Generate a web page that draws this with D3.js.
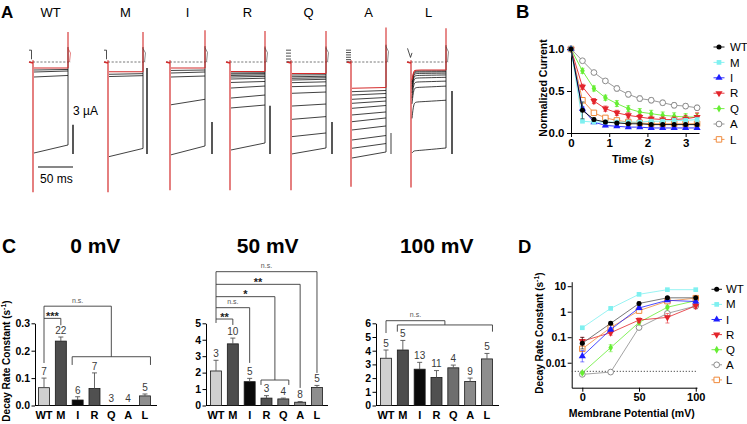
<!DOCTYPE html>
<html><head><meta charset="utf-8">
<script src="https://cdn.jsdelivr.net/npm/d3@7"></script>
<style>html,body{margin:0;padding:0;background:#fff;overflow:hidden}</style>
</head><body><script>
// ================= DATA =================
const constructs = ["WT","M","I","R","Q","A","L"];

// Panel A: current traces as fraction of each construct's largest current.
// [start, end] pairs (L: [onset, level, end]); the first entry is the red trace.
const traceWT = [[0.066,0.066],[0.088,0.082],[0.11,0.099],[0.165,0.148],[1.0,0.912]];
const traceM  = [[0.107,0.107],[0.135,0.128],[0.16,0.15],[1.04,0.95]];
const traceI  = [[0.066,0.066],[0.093,0.088],[0.121,0.11],[0.165,0.154],[0.47,0.41],[1.02,0.923]];
const traceR  = [[0.104,0.104],[0.121,0.118],[0.132,0.128],[0.148,0.142],[0.165,0.158],[0.187,0.178],[0.225,0.214],[0.286,0.264],[0.396,0.363],[0.505,0.473],[0.967,0.89]];
const traceQ  = [[0.126,0.126],[0.143,0.14],[0.162,0.157],[0.179,0.173],[0.198,0.19],[0.227,0.218],[0.271,0.262],[0.344,0.33],[0.484,0.462],[0.63,0.6],[0.82,0.78],[1.01,0.945]];
const traceA  = [[0.289,0.28],[0.326,0.313],[0.363,0.346],[0.41,0.39],[0.454,0.429],[0.509,0.478],[0.582,0.549],[0.656,0.615],[0.747,0.703],[0.857,0.808],[0.948,0.896],[1.055,0.989]];
const traceL  = [[0.2,0.088,0.088],[0.22,0.099,0.097],[0.24,0.11,0.107],[0.27,0.126,0.122],[0.3,0.148,0.142],[0.34,0.176,0.168],[0.4,0.22,0.21],[0.46,0.28,0.265],[0.62,0.44,0.42],[1.0,0.975,0.945]];
const capTransient = [1.43,1.43,1.41,1.41,1.41,1.37,1.38];
const tailPeak = [-0.33,-0.33,-0.35,-0.34,-0.34,-0.38,-0.37];
const scaleBarFrac = [0.32,0.945,0.35,0.53,0.35,0.23,0.69]; // 3 µA relative to largest current
const pulseMs = 50;

// Panel B: normalized current vs time
const timeS = [0,0.3,0.6,0.9,1.2,1.5,1.8,2.1,2.4,2.7,3.0,3.3];
const normWT = [1,0.27,0.16,0.13,0.12,0.11,0.11,0.10,0.10,0.10,0.10,0.10];
const normM  = [1,0.14,0.13,0.13,0.13,0.13,0.13,0.14,0.14,0.15,0.15,0.16];
const normI  = [1,0.29,0.13,0.09,0.08,0.07,0.07,0.06,0.06,0.06,0.06,0.06];
const normR  = [1,0.55,0.38,0.29,0.24,0.21,0.19,0.17,0.16,0.16,0.17,0.19];
const normQ  = [1,0.74,0.53,0.42,0.35,0.29,0.25,0.23,0.21,0.20,0.19,0.19];
const normA  = [1,0.86,0.72,0.62,0.53,0.46,0.41,0.39,0.36,0.33,0.32,0.30];
const normL  = [1,0.39,0.24,0.18,0.15,0.13,0.12,0.11,0.11,0.11,0.11,0.11];
const semWT = [0,0.10,0.02,0.02,0.015,0.015,0.015,0.015,0.015,0.015,0.015,0.015];
const semM  = [0,0.01,0.01,0.01,0.01,0.01,0.01,0.01,0.01,0.015,0.015,0.015];
const semI  = [0,0.02,0.015,0.015,0.01,0.01,0.01,0.01,0.01,0.01,0.01,0.01];
const semR  = [0,0.03,0.03,0.03,0.03,0.03,0.03,0.03,0.03,0.03,0.04,0.05];
const semQ  = [0,0.03,0.03,0.03,0.035,0.035,0.04,0.04,0.04,0.04,0.04,0.04];
const semA  = [0,0.01,0.02,0.02,0.03,0.03,0.03,0.03,0.03,0.03,0.03,0.03];
const semL  = [0,0.03,0.02,0.02,0.02,0.02,0.02,0.02,0.02,0.02,0.02,0.02];

// Panel C: decay rate constants (s^-1), SEM, n
const rate0mV   = [0.065,0.235,0.02,0.062,0,0,0.035];
const sem0mV    = [0.035,0.015,0.012,0.057,0,0,0.007];
const n0mV      = [7,22,6,7,3,4,5];
const rate50mV  = [2.1,3.75,1.45,0.45,0.4,0.2,1.1];
const sem50mV   = [0.65,0.35,0.2,0.15,0.05,0.04,0.12];
const n50mV     = [3,10,5,3,4,8,5];
const rate100mV = [3.45,4.05,2.65,2.05,2.75,1.75,3.4];
const sem100mV  = [0.6,0.7,0.5,0.5,0.2,0.25,0.4];
const n100mV    = [5,5,13,11,4,9,5];

// Panel D: decay rate constant vs membrane potential
const voltageMV = [0,25,50,75,100];
const kWT = [0.058,0.35,2.1,3.5,3.5];
const kM  = [0.235,1.35,4.8,7.3,7.3];
const kI  = [0.018,0.2,1.4,2.8,2.5];
const kR  = [0.07,0.15,0.47,0.6,1.7];
const kQ  = [0.0040,0.039,0.38,1.5,2.7];
const kA  = [0.0035,0.0043,0.24,0.86,1.67];
const kL  = [0.035,0.24,1.1,2.6,3.4];
const kSemWT = [0.04,0.05,0.3,0.4,0.3];
const kSemM  = [0.015,0.1,0.3,0.5,0.5];
const kSemI  = [0.012,0.03,0.2,0.3,0.3];
const kSemR  = [0.03,0.03,0.1,0.25,0.4];
const kSemQ  = [0.0004,0.012,0.05,0.2,0.3];
const kSemA  = [0.0003,0.0004,0.03,0.15,0.2];
const kSemL  = [0.007,0.05,0.1,0.3,0.4];
const kFloor = 0.0046;

// ================= STYLE =================
const FONT = '"Liberation Sans", Arial, Helvetica, sans-serif';
const seriesColor = ["#000000","#7ff0f0","#1e1eff","#e3242b","#66ee33","#8c8c8c","#f08a3c"];
const seriesShape = ["circle","square","triangle","triangleDown","diamond","circleOpen","squareOpen"];
const barFill = ["#cfcfcf","#4d4d4d","#0a0a0a","#505050","#6e6e6e","#8a8a8a","#8e8e8e"];

const svg = d3.select("body").append("svg").attr("width",747).attr("height",424)
  .style("font-family",FONT).style("display","block");

function txt(g,x,y,s,size,opt={}){
  const t=g.append("text").attr("x",x).attr("y",y).attr("font-size",size).text(s);
  if(opt.anchor) t.attr("text-anchor",opt.anchor);
  if(opt.bold) t.attr("font-weight","bold");
  if(opt.fill) t.attr("fill",opt.fill);
  return t;
}
function styleAxis(a,size){
  a.selectAll("path,line").attr("stroke","#000").attr("stroke-width",1);
  a.selectAll("text").attr("font-size",size).attr("font-weight","bold").attr("fill","#000").attr("font-family",FONT);
}
function marker(g,shape,x,y,color){
  const map={circle:[d3.symbolCircle,20],square:[d3.symbolSquare,22],triangle:[d3.symbolTriangle,22],
    triangleDown:[d3.symbolTriangle,22],diamond:[d3.symbolDiamond,18],circleOpen:[d3.symbolCircle,26],squareOpen:[d3.symbolSquare,30]};
  const [type,size]=map[shape];
  const p=g.append("path").attr("d",d3.symbol(type,size)())
    .attr("transform",`translate(${x},${y})`+(shape==="triangleDown"?" rotate(180)":""));
  if(shape.endsWith("Open")) p.attr("fill","#fff").attr("stroke",color).attr("stroke-width",1);
  else p.attr("fill",color);
}

// ================= PANEL LETTERS =================
txt(svg,1,18.3,"A",17,{bold:true});
txt(svg,516,18.3,"B",18.5,{bold:true});
txt(svg,2,253.3,"C",19.5,{bold:true});
txt(svg,518,253.3,"D",18.5,{bold:true});

// ================= PANEL A =================
const traceSets=[traceWT,traceM,traceI,traceR,traceQ,traceA,traceL];
const traceLeft=[33,108,170,230,291,351,411];
const traceWidth=35;
const scaleGap=[5,4,7,5,6,5,6];
const ay=d3.scaleLinear().domain([0,1]).range([62,153]);
const RED="#d42a2a";
constructs.forEach((c,i)=>{
  const L=traceLeft[i], R=L+traceWidth;
  const tx=d3.scaleLinear().domain([0,pulseMs]).range([L+1,R]);
  const g=svg.append("g");
  txt(g,(L+R)/2,16.7,c,13,{anchor:"middle"});
  g.append("line").attr("x1",L-4).attr("x2",R+3).attr("y1",ay(0)).attr("y2",ay(0))
    .attr("stroke","#555").attr("stroke-width",0.8).attr("stroke-dasharray","2.2,1.6");
  const set=traceSets[i];
  const last=t=>t[t.length-1];
  const bottom=set[set.length-1];
  g.append("line").attr("x1",R).attr("x2",R).attr("y1",ay(last(bottom))).attr("y2",ay(tailPeak[i]*0.5))
    .attr("stroke","#222").attr("stroke-width",0.9);
  const line=d3.line().x(d=>tx(d[0])).y(d=>ay(d[1])).curve(d3.curveBasis);
  const pts=t=> t.length===3 ? [[0,t[0]],[2.5,t[1]],[7,t[1]],[pulseMs,t[2]]] : [[0,t[0]],[pulseMs,t[1]]];
  set.slice(1).forEach(t=>{
    g.append("path").attr("d",line(pts(t))).attr("fill","none")
      .attr("stroke","#111").attr("stroke-width",0.8);
  });
  g.append("path").attr("d",line(pts(set[0]))).attr("fill","none")
    .attr("stroke",RED).attr("stroke-width",1.1);
  g.append("line").attr("x1",R).attr("x2",R).attr("y1",ay(last(set[0]))).attr("y2",ay(tailPeak[i]))
    .attr("stroke",RED).attr("stroke-width",1.1);
  g.append("path").attr("d",`M${R},${ay(tailPeak[i]*0.45)} L${R+2.5},${ay(tailPeak[i]*0.3)} L${R+1.5},${ay(0)}`)
    .attr("fill","none").attr("stroke",i===0?RED:"#444").attr("stroke-width",0.6);
  g.append("line").attr("x1",L).attr("x2",L).attr("y1",ay(-0.02)).attr("y2",ay(capTransient[i]))
    .attr("stroke",RED).attr("stroke-width",1.2);
  const sx=R+scaleGap[i];
  g.append("line").attr("x1",sx).attr("x2",sx).attr("y1",ay(1.01-scaleBarFrac[i])).attr("y2",ay(1.01))
    .attr("stroke",c==="A"?"#777":"#111").attr("stroke-width",1.4);
  if(c==="WT"||c==="M"){
    g.append("path").attr("d",`M${L-4},${ay(-0.13)} H${L-1.5} V${ay(-0.03)}`).attr("fill","none").attr("stroke","#222").attr("stroke-width",0.8);
  }
  if(c==="Q"||c==="A"){
    const k=c==="Q"?5:6;
    for(let j=0;j<k;j++){
      const yy=ay(-0.13+j*0.13/(k-1));
      g.append("line").attr("x1",L-5).attr("x2",L).attr("y1",yy).attr("y2",yy).attr("stroke","#222").attr("stroke-width",0.8);
    }
  }
  if(c==="L"){
    g.append("path").attr("d",`M${L-3.5},${ay(-0.15)} L${L-0.5},${ay(-0.05)} L${L+1},${ay(-0.1)}`).attr("fill","none").attr("stroke","#222").attr("stroke-width",0.8);
  }
  g.append("line").attr("x1",L-4).attr("x2",L).attr("y1",ay(0)).attr("y2",ay(0.01)).attr("stroke",RED).attr("stroke-width",1.5);
  if(c==="WT"){
    txt(g,R+5,115,"3 \u00b5A",12);
    g.append("line").attr("x1",tx(0)+4).attr("x2",tx(pulseMs)+5).attr("y1",167).attr("y2",167).attr("stroke","#111").attr("stroke-width",1.2);
    txt(g,40,183,"50 ms",12);
  }
});

// ================= PANEL B =================
const normSeries=[normWT,normM,normI,normR,normQ,normA,normL];
const semSeries=[semWT,semM,semI,semR,semQ,semA,semL];
const bx=d3.scaleLinear().domain([0,3.35]).range([571,699]);
const by=d3.scaleLinear().domain([0,1]).range([133,49]);
const gB=svg.append("g");
const bxa=gB.append("g").attr("transform","translate(0,133)")
  .call(d3.axisBottom(bx).tickValues([0,1,2,3]).tickFormat(d3.format("d")).tickSize(4).tickSizeOuter(0).tickPadding(1.5));
styleAxis(bxa,11.5);
const bya=gB.append("g").attr("transform","translate(571,0)")
  .call(d3.axisLeft(by).tickValues([0,0.5,1]).tickFormat(d3.format(".1f")).tickSize(4).tickSizeOuter(0).tickPadding(2.5));
styleAxis(bya,11.5);
txt(gB,633,163,"Time (s)",11,{anchor:"middle",bold:true});
txt(gB,0,0,"Normalized  Current",10.5,{anchor:"middle",bold:true}).attr("transform","translate(547,88) rotate(-90)");
[6,5,4,3,2,1,0].forEach(i=>{
  const ser=normSeries[i], sem=semSeries[i], col=seriesColor[i];
  const g=gB.append("g");
  g.append("path").attr("d",d3.line().x((d,j)=>bx(timeS[j])).y(d=>by(d))(ser))
    .attr("fill","none").attr("stroke",col).attr("stroke-width",0.9);
  ser.forEach((v,j)=>{
    if(sem[j]>0){
      const x=bx(timeS[j]);
      g.append("path").attr("d",`M${x},${by(v-sem[j])}V${by(v+sem[j])}M${x-2},${by(v-sem[j])}H${x+2}M${x-2},${by(v+sem[j])}H${x+2}`)
        .attr("stroke",i===0?"#2a5a5a":col).attr("stroke-width",0.8).attr("fill","none");
    }
  });
  ser.forEach((v,j)=>marker(g,seriesShape[i],bx(timeS[j]),by(v),col));
});
constructs.forEach((c,i)=>{
  const y=47+i*15.4;
  gB.append("line").attr("x1",713.5).attr("x2",724.5).attr("y1",y).attr("y2",y).attr("stroke",seriesColor[i]).attr("stroke-width",0.9);
  marker(gB,seriesShape[i],719,y,seriesColor[i]);
  txt(gB,730,y+4.2,c,11.5);
});

// ================= PANEL C =================
const Y0=405.5, YTOP=323.3;
function barChart(cfg){
  const g=svg.append("g");
  const y=d3.scaleLinear().domain([0,cfg.yMax]).range([Y0,YTOP]);
  const x=d3.scalePoint().domain(constructs).range([cfg.x0,cfg.x0+6*16.83]);
  txt(g,cfg.titleX,253.3,cfg.title,21,{anchor:"middle",bold:true});
  const ya=g.append("g").attr("transform",`translate(${cfg.axisX},0)`)
    .call(d3.axisLeft(y).tickValues(cfg.ticks).tickFormat(cfg.fmt).tickSize(3.5).tickSizeOuter(0).tickPadding(1.5));
  styleAxis(ya,10.5);
  g.append("line").attr("x1",cfg.axisX).attr("x2",cfg.xEnd).attr("y1",Y0).attr("y2",Y0).attr("stroke","#000").attr("stroke-width",1);
  g.selectAll("rect.bar").data(cfg.vals).join("rect").attr("class","bar")
    .attr("x",(d,i)=>x(constructs[i])-5.5).attr("width",11)
    .attr("y",d=>y(d)).attr("height",d=>Math.max(0,Y0-y(d)))
    .attr("fill",(d,i)=>barFill[i]).attr("stroke","#1a1a1a").attr("stroke-width",d=>d>0?0.8:0);
  cfg.vals.forEach((v,i)=>{
    const cx=x(constructs[i]);
    if(cfg.sem[i]>0){
      g.append("path").attr("d",`M${cx},${y(v)}V${y(v+cfg.sem[i])}M${cx-2.5},${y(v+cfg.sem[i])}H${cx+2.5}`)
        .attr("stroke","#555").attr("stroke-width",0.9).attr("fill","none");
    }
    txt(g,cx,y(v+cfg.sem[i])-3.2,String(cfg.n[i]),10,{anchor:"middle",fill:"#3a3a3a"});
  });
  constructs.forEach(c=>txt(g,x(c),419,c,11,{anchor:"middle",bold:true}));
  return {g,x,y};
}
function bracket(g,pts){
  g.append("path").attr("d",d3.line()(pts)).attr("fill","none").attr("stroke","#3a3a3a").attr("stroke-width",0.9);
}
function sigText(g,x,y,s,ns){
  if(ns) txt(g,x,y,s,7,{anchor:"middle",fill:"#555"});
  else txt(g,x,y,s,11,{anchor:"middle",bold:true,fill:"#222"});
}
const yTitle=svg.append("text").attr("transform","translate(10,361) rotate(-90)").attr("text-anchor","middle")
  .attr("font-size",10).attr("font-weight","bold");
yTitle.append("tspan").text("Decay Rate Constant (s");
yTitle.append("tspan").text("-1").attr("font-size",7).attr("dy",-4);
yTitle.append("tspan").text(")").attr("dy",4);

{
  const {g,x,y}=barChart({title:"0 mV",titleX:95.3,axisX:35,x0:44,xEnd:157,yMax:0.3,ticks:[0,0.1,0.2,0.3],fmt:d3.format(".1f"),
    vals:rate0mV,sem:sem0mV,n:n0mV});
  bracket(g,[[x("WT"),y(0.155)],[x("WT"),y(0.3625)],[x("Q"),y(0.3625)],[x("Q"),y(0.178)]]);
  bracket(g,[[x("WT"),y(0.318)],[x("M"),y(0.318)],[x("M"),y(0.293)]]);
  bracket(g,[[x("I")-5.5,y(0.148)],[x("I")-5.5,y(0.178)],[x("L")+5.5,y(0.178)],[x("L")+5.5,y(0.148)]]);
  sigText(g,(x("WT")+x("M"))/2,y(0.318)+2,"***");
  sigText(g,(x("WT")+x("Q"))/2,y(0.3625)-3.5,"n.s.",true);
}
{
  const {g,x,y}=barChart({title:"50 mV",titleX:267.7,axisX:206,x0:216,xEnd:328,yMax:5,ticks:[0,1,2,3,4,5],fmt:d3.format("d"),
    vals:rate50mV,sem:sem50mV,n:n50mV});
  const rq=(x("R")+x("Q"))/2;
  bracket(g,[[x("WT"),y(5.02)],[x("WT"),y(8.14)],[x("L"),y(8.14)],[x("L"),y(1.98)]]);
  bracket(g,[[x("WT"),y(7.37)],[x("A"),y(7.37)],[x("A"),y(1.07)]]);
  bracket(g,[[x("WT"),y(6.62)],[rq,y(6.62)],[rq,y(1.55)]]);
  bracket(g,[[x("WT"),y(5.95)],[x("I"),y(5.95)],[x("I"),y(2.59)]]);
  bracket(g,[[x("WT"),y(5.26)],[x("M"),y(5.26)],[x("M"),y(4.9)]]);
  bracket(g,[[x("R")-5.5,y(1.25)],[x("R")-5.5,y(1.55)],[x("Q")+5.5,y(1.55)],[x("Q")+5.5,y(1.25)]]);
  sigText(g,(x("WT")+x("L"))/2,y(8.14)-3.5,"n.s.",true);
  sigText(g,(x("WT")+x("A"))/2,y(7.37)+1.5,"**");
  sigText(g,(x("WT")+rq)/2,y(6.62)+1.5,"*");
  sigText(g,(x("WT")+x("I"))/2,y(5.95)-3.5,"n.s.",true);
  sigText(g,(x("WT")+x("M"))/2,y(5.26)+1.5,"**");
}
{
  const {g,x,y}=barChart({title:"100 mV",titleX:436.7,axisX:376,x0:386,xEnd:499,yMax:6,ticks:[0,1,2,3,4,5,6],fmt:d3.format("d"),
    vals:rate100mV,sem:sem100mV,n:n100mV});
  const gl=x("M")-5.5, gr=x("L")+5.5, gm=(gl+gr)/2;
  bracket(g,[[x("WT"),y(5.29)],[x("WT"),y(6.19)],[gm,y(6.19)],[gm,y(5.88)]]);
  bracket(g,[[gl,y(5.39)],[gl,y(5.88)],[gr,y(5.88)],[gr,y(5.39)]]);
  sigText(g,(x("WT")+gm)/2,y(6.19)-3.5,"n.s.",true);
}

// ================= PANEL D =================
const kSeries=[kWT,kM,kI,kR,kQ,kA,kL];
const kSem=[kSemWT,kSemM,kSemI,kSemR,kSemQ,kSemA,kSemL];
const dx=d3.scaleLinear().domain([-9.35,101.1]).range([571.7,697]);
const dy=d3.scaleLog().domain([0.00105,15]).range([387.7,281.7]);
const gD=svg.append("g");
const dxa=gD.append("g").attr("transform","translate(0,387.7)")
  .call(d3.axisBottom(dx).tickValues([0,50,100]).tickFormat(d3.format("d")).tickSize(4).tickSizeOuter(0).tickPadding(2));
styleAxis(dxa,11);
const dya=gD.append("g").attr("transform","translate(571.7,0)")
  .call(d3.axisLeft(dy).tickValues([0.01,0.1,1,10]).tickFormat(d=>d>=1?d3.format("d")(d):String(d)).tickSize(4).tickSizeOuter(0).tickPadding(1.5));
styleAxis(dya,10.5);
gD.append("line").attr("x1",571.7).attr("x2",697).attr("y1",dy(kFloor)).attr("y2",dy(kFloor))
  .attr("stroke","#444").attr("stroke-width",0.9).attr("stroke-dasharray","1.3,1.7");
txt(gD,631.7,417,"Membrane Potential (mV)",10.5,{anchor:"middle",bold:true});
const dTitle=gD.append("text").attr("transform","translate(543,333) rotate(-90)").attr("text-anchor","middle")
  .attr("font-size",10).attr("font-weight","bold");
dTitle.append("tspan").text("Decay Rate Constant (s");
dTitle.append("tspan").text("-1").attr("font-size",7).attr("dy",-4);
dTitle.append("tspan").text(")").attr("dy",4);
[5,4,3,6,2,0,1].forEach(i=>{
  const ser=kSeries[i], col=seriesColor[i];
  const g=gD.append("g");
  g.append("path").attr("d",d3.line().x((d,j)=>dx(voltageMV[j])).y(d=>dy(d))(ser))
    .attr("fill","none").attr("stroke",i===0?"#555":col).attr("stroke-width",0.8);
  ser.forEach((v,j)=>{
    const e=kSem[i][j], xx=dx(voltageMV[j]);
    const lo=Math.max(v-e,v*0.6), hi=v+e;
    g.append("path").attr("d",`M${xx},${dy(lo)}V${dy(hi)}M${xx-2},${dy(lo)}H${xx+2}M${xx-2},${dy(hi)}H${xx+2}`)
      .attr("stroke",col).attr("stroke-width",0.7).attr("fill","none").attr("opacity",0.8);
  });
  ser.forEach((v,j)=>marker(g,seriesShape[i],dx(voltageMV[j]),dy(v),col));
});
constructs.forEach((c,i)=>{
  const y=289.3+i*15.1;
  gD.append("line").attr("x1",711.5).attr("x2",722).attr("y1",y).attr("y2",y).attr("stroke",seriesColor[i]).attr("stroke-width",0.9);
  marker(gD,seriesShape[i],716.7,y,seriesColor[i]);
  txt(gD,726,y+4,c,11.5);
});
</script></body></html>
